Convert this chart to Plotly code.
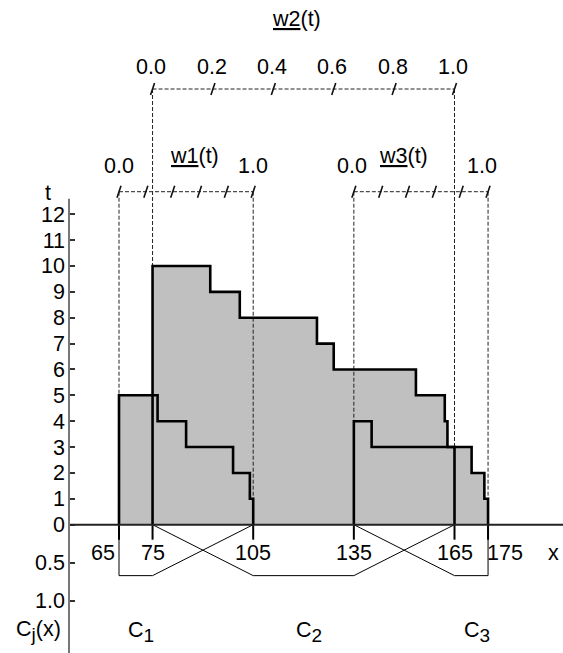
import plotly.graph_objects as go

# ---------------- data ----------------
x_ticks = [65, 75, 105, 135, 165, 175]
t_ticks = list(range(0, 13))
m_tick_labels = ["0.5", "1.0"]
m_tick_values = [0.5, 1.0]
w_scale_labels = ["0.0", "0.2", "0.4", "0.6", "0.8", "1.0"]

# step functions t(x): breakpoints along x and the level on each interval
w1_edges = [65, 76.5, 85, 99, 104, 105]
w1_levels = [5, 4, 3, 2, 1]
w2_edges = [75, 92.2, 101, 124, 129, 153.5, 162.1, 162.9, 165]
w2_levels = [10, 9, 8, 7, 6, 5, 4, 3]
w3_edges = [135, 140.3, 170.1, 173.9, 175]
w3_levels = [4, 3, 2, 1]

# membership functions C_j(x)
c_peak = 0.67
c1_x = [65, 65, 75, 105]
c1_m = [0, c_peak, c_peak, 0]
c2_x = [75, 105, 135, 165]
c2_m = [0, c_peak, c_peak, 0]
c3_x = [135, 165, 175, 175]
c3_m = [0, c_peak, c_peak, 0]

# ---------------- layout constants ----------------
FONT = "Liberation Sans, Arial, sans-serif"
FS = 21.5
M_SCALE = 2.94          # t-units per membership 1.0 (drawn downward)
W13_LEVEL = 12.87       # height of w1 / w3 scales
W2_LEVEL = 16.84        # height of w2 scale
W, H = 563, 653
X_RANGE = [29.53, 197.34]
Y_RANGE = [-4.96, 20.28]
YAX_POS = 69 / W

funcs = [(w1_edges, w1_levels, W13_LEVEL), (w2_edges, w2_levels, W2_LEVEL),
         (w3_edges, w3_levels, W13_LEVEL)]

fig = go.Figure()


def level_at(edges, levels, x):
    for i in range(len(levels)):
        if edges[i] <= x < edges[i + 1]:
            return levels[i]
    return 0


# gray envelope (union of areas under the step functions)
bps = sorted(set(w1_edges + w2_edges + w3_edges))
env_x, env_y = [bps[0]], [0]
for a, b in zip(bps[:-1], bps[1:]):
    lv = max(level_at(e, l, (a + b) / 2) for e, l, _ in funcs)
    env_x += [a, b]
    env_y += [lv, lv]
env_x.append(bps[-1])
env_y.append(0)
fig.add_trace(go.Scatter(x=env_x, y=env_y, fill="toself", fillcolor="#c0c0c0",
                         mode="lines", line=dict(width=0), hoverinfo="skip"))

# dashed guide lines and scales
dx, dy = [], []
sx, sy = [], []
for edges, levels, lvl in funcs:
    x0, x1 = edges[0], edges[-1]
    dx += [x0, x0, None, x1, x1, None, x0, x1, None]
    dy += [lvl, levels[0], None, lvl, levels[-1], None, lvl, lvl, None]
    n = len(w_scale_labels)
    for k in range(n):
        xv = x0 + (x1 - x0) * k / (n - 1)
        sx += [xv - 0.6, xv + 0.6, None]
        sy += [lvl - 0.23, lvl + 0.23, None]
fig.add_trace(go.Scatter(x=dx, y=dy, mode="lines",
                         line=dict(color="#222", width=1, dash="4px,2px"), hoverinfo="skip"))
fig.add_trace(go.Scatter(x=sx, y=sy, mode="lines",
                         line=dict(color="#111", width=1.6), hoverinfo="skip"))

# step outlines
for edges, levels, _ in funcs:
    xs, ys = [edges[0]], [0]
    for i, lv in enumerate(levels):
        xs += [edges[i], edges[i + 1]]
        ys += [lv, lv]
    xs.append(edges[-1])
    ys.append(0)
    fig.add_trace(go.Scatter(x=xs, y=ys, mode="lines",
                             line=dict(color="black", width=2.6), hoverinfo="skip"))

# x tick marks below the axis
tx, ty = [], []
for xv in x_ticks:
    tx += [xv, xv, None]
    ty += [0, -0.58, None]
fig.add_trace(go.Scatter(x=tx, y=ty, mode="lines",
                         line=dict(color="black", width=2), hoverinfo="skip"))

# membership functions (drawn downward)
for cx, cm in [(c1_x, c1_m), (c2_x, c2_m), (c3_x, c3_m)]:
    fig.add_trace(go.Scatter(x=cx, y=[-m * M_SCALE for m in cm], mode="lines",
                             line=dict(color="black", width=1), hoverinfo="skip"))

# axis lines
fig.add_shape(type="line", xref="paper", yref="y", x0=YAX_POS, x1=1, y0=0, y1=0,
              line=dict(color="#222", width=2))
fig.add_shape(type="line", xref="paper", yref="y", x0=YAX_POS, x1=YAX_POS,
              y0=Y_RANGE[0], y1=12.6, line=dict(color="#777", width=2))

# annotations
ann = []


def txt(x, y, s, xa="center", ya="middle", size=FS):
    ann.append(dict(x=x, y=y, xref="x", yref="y", text=s, showarrow=False,
                    xanchor=xa, yanchor=ya, font=dict(family=FONT, size=size, color="black")))


for xv in x_ticks:
    if xv == x_ticks[0]:
        txt(xv - 0.5, -1.10, str(xv), xa="right")
    elif xv == x_ticks[-1]:
        txt(xv - 0.8, -1.10, str(xv), xa="left")
    else:
        txt(xv, -1.10, str(xv))
txt(194.5, -1.10, "x")

# w2 scale labels
e = w2_edges
for k, lab in enumerate(w_scale_labels):
    txt(e[0] + (e[-1] - e[0]) * k / (len(w_scale_labels) - 1) - 0.4, 17.70, lab)
txt(118.0, 19.55, "<u>w2</u>(t)")
# w1 / w3 scale end labels
txt(w1_edges[0], 13.88, w_scale_labels[0])
txt(w1_edges[-1], 13.88, w_scale_labels[-1])
txt(87.4, 14.25, "<u>w1</u>(t)")
txt(w3_edges[0] - 0.5, 13.88, w_scale_labels[0])
txt(w3_edges[-1] - 1.8, 13.88, w_scale_labels[-1])
txt(149.9, 14.25, "<u>w3</u>(t)")

txt(43.9, 12.82, "t")
sub = '<sub><span style="font-size:19px">{}</span></sub>'
txt(40.9, -4.10, "C" + sub.format("j") + "(x)")
txt(71.5, -4.15, "C" + sub.format("1"))
txt(121.6, -4.15, "C" + sub.format("2"))
txt(171.6, -4.15, "C" + sub.format("3"))

fig.update_layout(
    width=W, height=H, margin=dict(l=0, r=0, t=0, b=0),
    paper_bgcolor="white", plot_bgcolor="white", showlegend=False,
    annotations=ann,
    xaxis=dict(range=X_RANGE, visible=False, fixedrange=True),
    yaxis=dict(range=Y_RANGE, anchor="free", position=YAX_POS,
               showgrid=False, zeroline=False, showline=False,
               tickmode="array",
               tickvals=[-m * M_SCALE for m in m_tick_values] + t_ticks,
               ticktext=m_tick_labels + [str(t) for t in t_ticks],
               ticks="inside", ticklen=5, tickwidth=2, tickcolor="#333",
               ticklabelstandoff=4,
               tickfont=dict(family=FONT, size=FS, color="black"), fixedrange=True),
)

fig.write_html("out.html", config={"displayModeBar": False},
               post_script="document.body.style.margin='0';document.body.style.overflow='hidden';")
